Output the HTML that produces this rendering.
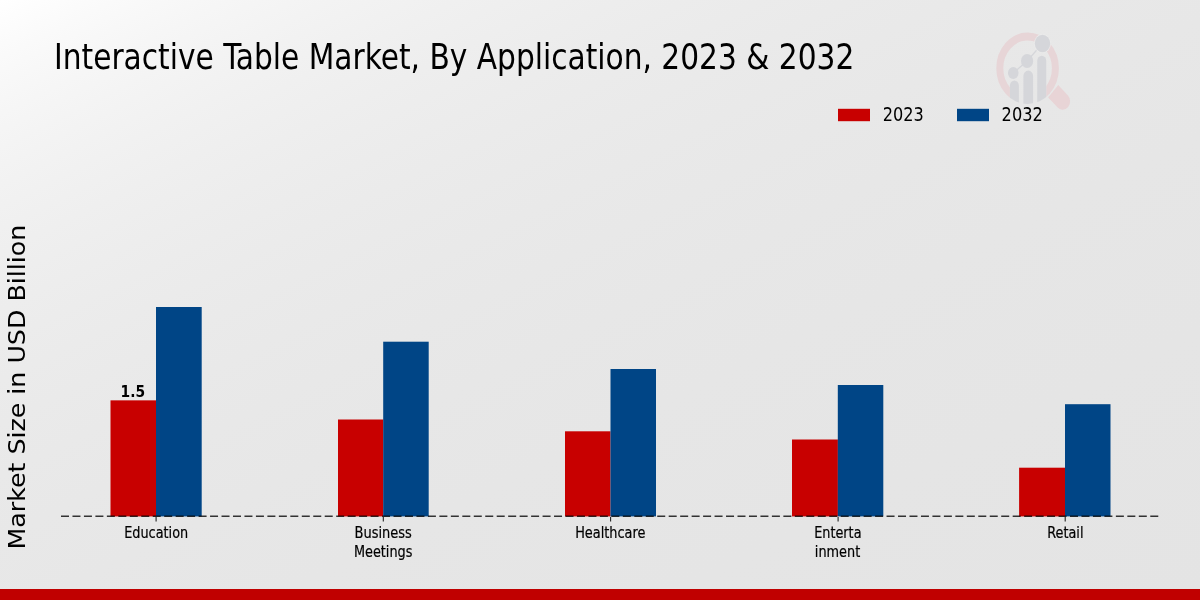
<!DOCTYPE html>
<html>
<head>
<meta charset="utf-8">
<title>Interactive Table Market, By Application, 2023 &amp; 2032</title>
<style>
html,body{margin:0;padding:0;width:1200px;height:600px;overflow:hidden;background:#e8e8e8;}
#wrap{width:1200px;height:600px;will-change:transform;}
svg{display:block;}
.c{font-family:"DejaVu Sans Condensed","DejaVu Sans","Liberation Sans",sans-serif;fill:#000;}
.n{font-family:"DejaVu Sans","Liberation Sans",sans-serif;fill:#000;}
</style>
</head>
<body>
<div id="wrap">
<svg width="1200" height="600" viewBox="0 0 1200 600">
<defs>
<linearGradient id="bg" x1="0" y1="0" x2="1" y2="1">
<stop offset="0" stop-color="rgb(255,255,255)"/>
<stop offset="0.0089" stop-color="rgb(254,254,254)"/>
<stop offset="0.0181" stop-color="rgb(253,253,253)"/>
<stop offset="0.0277" stop-color="rgb(252,252,252)"/>
<stop offset="0.0377" stop-color="rgb(251,251,251)"/>
<stop offset="0.0481" stop-color="rgb(250,250,250)"/>
<stop offset="0.0591" stop-color="rgb(249,249,249)"/>
<stop offset="0.0705" stop-color="rgb(248,248,248)"/>
<stop offset="0.0826" stop-color="rgb(247,247,247)"/>
<stop offset="0.0953" stop-color="rgb(246,246,246)"/>
<stop offset="0.1087" stop-color="rgb(245,245,245)"/>
<stop offset="0.123" stop-color="rgb(244,244,244)"/>
<stop offset="0.1381" stop-color="rgb(243,243,243)"/>
<stop offset="0.1543" stop-color="rgb(242,242,242)"/>
<stop offset="0.1718" stop-color="rgb(241,241,241)"/>
<stop offset="0.1906" stop-color="rgb(240,240,240)"/>
<stop offset="0.211" stop-color="rgb(239,239,239)"/>
<stop offset="0.2334" stop-color="rgb(238,238,238)"/>
<stop offset="0.2582" stop-color="rgb(237,237,237)"/>
<stop offset="0.2859" stop-color="rgb(236,236,236)"/>
<stop offset="0.3172" stop-color="rgb(235,235,235)"/>
<stop offset="0.3535" stop-color="rgb(234,234,234)"/>
<stop offset="0.3963" stop-color="rgb(233,233,233)"/>
<stop offset="0.4487" stop-color="rgb(232,232,232)"/>
<stop offset="0.5163" stop-color="rgb(231,231,231)"/>
<stop offset="0.6116" stop-color="rgb(230,230,230)"/>
<stop offset="0.7745" stop-color="rgb(229,229,229)"/>
<stop offset="1" stop-color="rgb(228,228,228)"/>
</linearGradient>
</defs>
<rect x="0" y="0" width="1200" height="600" fill="url(#bg)"/>

<!-- watermark logo -->
<g transform="translate(1027.6,68.3) scale(1,1.14)">
<!-- magnifier ring (hidden where the bars sit) -->
<clipPath id="rc"><path d="M-45,-45 H45 V45 H18.65 V0 H-17.7 V45 H-45 Z"/></clipPath>
<circle cx="0" cy="0" r="27.8" fill="none" stroke="#e7d5d7" stroke-width="7" clip-path="url(#rc)"/>
<!-- handle -->
<g transform="translate(25.6,20.1) rotate(43)">
<path d="M0,-7.4 L13,-7.4 A7.4,7.4 0 0 1 13,7.4 L0,7.4 Z" fill="#e8d4d6"/>
</g>
<!-- bars, clipped to outer circle -->
<clipPath id="lc"><circle cx="0" cy="0" r="31.4"/></clipPath>
<g clip-path="url(#lc)" fill="#d5d6da">
<path d="M-17.7,40 V15.2 A4.5,4.5 0 0 1 -8.7,15.2 V40 Z"/>
<path d="M-4.2,40 V6.8 A4.85,4.85 0 0 1 5.5,6.8 V40 Z"/>
<path d="M9.65,40 V-6.5 A4.5,4.5 0 0 1 18.65,-6.5 V40 Z"/>
</g>
<!-- trend line and dots -->
<polyline points="-14.35,4.1 -0.5,-6.4 14.9,-21.8" fill="none" stroke="#d5d6da" stroke-width="1.3"/>
<circle cx="-14.35" cy="4.1" r="5.3" fill="#d5d6da"/>
<circle cx="-0.5" cy="-6.4" r="6.1" fill="#d5d6da"/>
<circle cx="14.9" cy="-21.8" r="8.4" fill="#ebebeb"/>
<circle cx="14.9" cy="-21.8" r="7.7" fill="#d5d6da"/>
</g>

<!-- title -->
<text class="c" transform="translate(53.99,68.8) scale(0.9317,1)" text-anchor="start" font-size="35.4">Interactive Table Market, By Application, 2023 &amp; 2032</text>

<!-- y axis label -->
<text class="n" transform="translate(25.2,387.1) rotate(-90) scale(1.0852,1)" text-anchor="middle" font-size="23.3">Market Size in USD Billion</text>

<!-- legend -->
<rect x="838" y="108.8" width="32" height="12.4" fill="#c80000"/>
<text class="c" transform="translate(882.75,121) scale(0.9333,1)" text-anchor="start" font-size="19.2">2023</text>
<rect x="957" y="108.8" width="32" height="12.4" fill="#004586"/>
<text class="c" transform="translate(1001.62,121) scale(0.9379,1)" text-anchor="start" font-size="19.2">2032</text>

<!-- bars -->
<g fill="#c80000">
<rect x="110.5" y="400.35" width="45.5" height="116.05"/>
<rect x="338" y="419.5" width="45.3" height="96.9"/>
<rect x="565" y="431.3" width="45.5" height="85.1"/>
<rect x="792" y="439.5" width="45.9" height="76.9"/>
<rect x="1019.1" y="467.7" width="46" height="48.7"/>
</g>
<g fill="#004586">
<rect x="156" y="307" width="45.7" height="209.4"/>
<rect x="383.2" y="341.7" width="45.5" height="174.7"/>
<rect x="610.5" y="369" width="45.5" height="147.4"/>
<rect x="837.8" y="385" width="45.5" height="131.4"/>
<rect x="1065" y="404.2" width="45.5" height="112.2"/>
</g>

<!-- baseline -->
<line x1="61" y1="516.2" x2="1158.3" y2="516.2" stroke="#000" stroke-opacity="0.78" stroke-width="1.5" stroke-dasharray="8 3.466"/>

<!-- ticks -->
<g stroke="#222" stroke-width="1.1">
<line x1="156.1" y1="517" x2="156.1" y2="521.6"/>
<line x1="383.3" y1="517" x2="383.3" y2="521.6"/>
<line x1="610.6" y1="517" x2="610.6" y2="521.6"/>
<line x1="838.1" y1="517" x2="838.1" y2="521.6"/>
<line x1="1065.2" y1="517" x2="1065.2" y2="521.6"/>
</g>

<!-- value label -->
<text class="c" transform="translate(132.75,397) scale(0.9391,1)" text-anchor="middle" font-size="16.4" font-weight="bold">1.5</text>

<!-- tick labels -->
<text class="c" transform="translate(156.17,538.1) scale(0.866,1)" text-anchor="middle" font-size="16.5" stroke="#000" stroke-width="0.2">Education</text>
<text class="c" transform="translate(383.2,538.1) scale(0.8764,1)" text-anchor="middle" font-size="16.5" stroke="#000" stroke-width="0.2">Business</text>
<text class="c" transform="translate(383.18,556.8) scale(0.8652,1)" text-anchor="middle" font-size="16.5" stroke="#000" stroke-width="0.2">Meetings</text>
<text class="c" transform="translate(610.28,538.1) scale(0.8686,1)" text-anchor="middle" font-size="16.5" stroke="#000" stroke-width="0.2">Healthcare</text>
<text class="c" transform="translate(837.84,538.1) scale(0.8648,1)" text-anchor="middle" font-size="16.5" stroke="#000" stroke-width="0.2">Enterta</text>
<text class="c" transform="translate(837.53,556.8) scale(0.867,1)" text-anchor="middle" font-size="16.5" stroke="#000" stroke-width="0.2">inment</text>
<text class="c" transform="translate(1065.35,538.1) scale(0.8654,1)" text-anchor="middle" font-size="16.5" stroke="#000" stroke-width="0.2">Retail</text>

<!-- bottom band -->
<rect x="0" y="589" width="1200" height="11" fill="#c00000"/>
</svg>
</div>
</body>
</html>
